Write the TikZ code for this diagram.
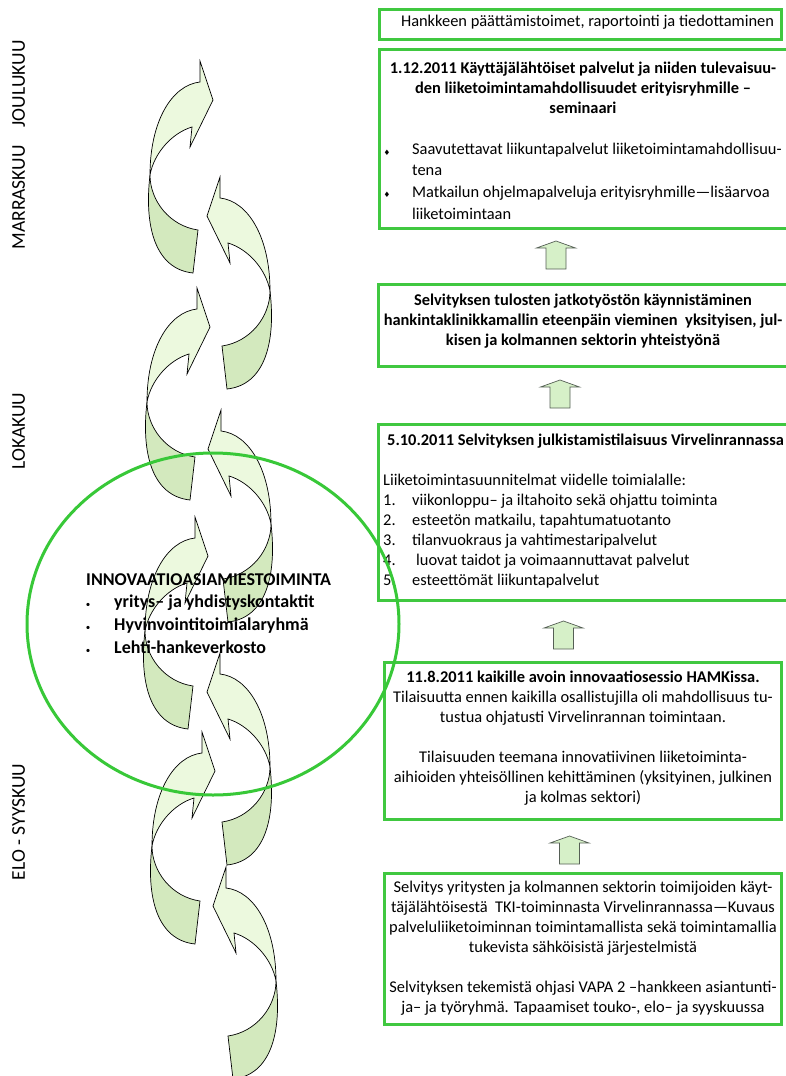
\documentclass[tikz,border=0pt]{standalone}
\usepackage{fontspec}
\setmainfont{Carlito}
\newfontfamily\dejavu{DejaVu Sans}
\definecolor{boxgreen}{RGB}{64,200,64}
\definecolor{ellgreen}{RGB}{56,200,56}
\definecolor{arrlight}{RGB}{236,249,222}
\definecolor{arrdark}{RGB}{211,233,190}
\definecolor{uparrfill}{RGB}{214,240,200}
\definecolor{uparrline}{RGB}{85,95,85}
\tikzset{
  swirl/.pic={
    \filldraw[draw=black, line width=0.7pt, fill=arrlight]
      (0,21) -- (0,0) -- (13,39) -- (-10,86) -- (-8,66)
      .. controls (-28,72) and (-46,92) .. (-50,114)
      .. controls (-50,60) and (-28,24) .. (0,21) -- cycle;
    \filldraw[draw=black, line width=0.7pt, fill=arrdark]
      (-50,114) .. controls (-56,165) and (-45,208) .. (-7,212)
      -- (-2,169) .. controls (-30,165) and (-50,140) .. (-50,114) -- cycle;
  },
  uparrow/.pic={
    \filldraw[draw=uparrline, fill=uparrfill, line width=0.7pt]
      (0,0) -- (19.5,7) -- (10,7) -- (10,28) -- (-10,28) -- (-10,7) -- (-19.5,7) -- cycle;
  },
  greenbox/.style={draw=boxgreen, line width=3pt, inner sep=0pt},
  body/.style={font=\fontsize{16.4}{20}\selectfont, inner sep=0pt, anchor=base},
  bodyb/.style={font=\fontsize{16.4}{20}\selectfont\bfseries, inner sep=0pt, anchor=base},
  bulletlist/.style={font=\fontsize{16.4}{21.7}\selectfont, inner sep=0pt, anchor=base west, align=left},
  month/.style={font=\fontsize{19.5}{22}\selectfont, inner sep=0pt, rotate=90},
  ellb/.style={font=\fontsize{18}{23}\selectfont\bfseries, inner sep=0pt, anchor=base west},
  dia/.style={font=\dejavu\fontsize{7.5}{7.5}\selectfont, inner sep=0pt},
  dot/.style={font=\fontsize{9}{9}\selectfont, inner sep=0pt},
}
\begin{document}
\begin{tikzpicture}[x=1pt,y=-1pt]
\useasboundingbox (0,0) rectangle (786,1076);
\clip (0,0) rectangle (786,1076);

% month labels
\node[month] (m1) at (18.5,145) {MARRASKUU\hspace{18pt}JOULUKUU};
\node[month] (m2) at (18.5,431) {LOKAKUU};
\node[month] (m3) at (18.5,822) {ELO - SYYSKUU};

% curved arrows
\pic (a1) at (200,61) {swirl};
\pic[xscale=-1] (a2) at (220,177) {swirl};
\pic (a3) at (197,288) {swirl};
\pic[xscale=-1] (a4) at (221,410) {swirl};
\pic (a5) at (195,517) {swirl};
\pic[xscale=-1] (a6) at (220,653) {swirl};
\pic (a7) at (202,732) {swirl};
\pic[xscale=-1] (a8) at (226,867) {swirl};

% boxes
\node[greenbox, minimum width=402pt, minimum height=30pt] (b0) at (580.5,24.5) {};
\node[greenbox, minimum width=410.5pt, minimum height=179pt] (b1) at (584.75,139) {};
\node[greenbox, minimum width=411.5pt, minimum height=82pt] (b2) at (584.25,325.5) {};
\node[greenbox, minimum width=411.5pt, minimum height=176pt] (b3) at (584.25,512.5) {};
\node[greenbox, minimum width=397pt, minimum height=157pt] (b4) at (583,741) {};
\node[greenbox, minimum width=397pt, minimum height=151pt] (b5) at (583,949) {};

% up arrows
\pic (u1) at (556,241) {uparrow};
\pic (u2) at (560,380) {uparrow};
\pic (u3) at (563.5,621) {uparrow};
\pic (u4) at (569.5,836) {uparrow};

% box texts (multi-line nodes: base = baseline of last line)
\node[body] (t0) at (587.5,26) {Hankkeen päättämistoimet, raportointi ja tiedottaminen};

\node[bodyb, align=center] (t1) at (583,113) {1.12.2011 Käyttäjälähtöiset palvelut ja niiden tulevaisuu-\\den liiketoimintamahdollisuudet erityisryhmille –\\seminaari};
\node[dia] (d1) at (387,153) {♦};
\node[bulletlist] (t1a) at (412,175.7) {Saavutettavat liikuntapalvelut liiketoimintamahdollisuu-\\tena};
\node[dia] (d2) at (387,195) {♦};
\node[bulletlist] (t1b) at (412,219.1) {Matkailun ohjelmapalveluja erityisryhmille—lisäarvoa\\liiketoimintaan};

\node[bodyb, align=center] (t2) at (583,345) {Selvityksen tulosten jatkotyöstön käynnistäminen\\hankintaklinikkamallin eteenpäin vieminen\ \ yksityisen, jul-\\kisen ja kolmannen sektorin yhteistyönä};

\node[bodyb, anchor=base west] (t3) at (387,445) {5.10.2011 Selvityksen julkistamistilaisuus Virvelinrannassa};
\node[body, anchor=base west] (t3a) at (383,485) {Liiketoimintasuunnitelmat viidelle toimialalle:};
\node[body, anchor=base west] (n1) at (383,505) {1.};
\node[body, anchor=base west] (n2) at (383,525) {2.};
\node[body, anchor=base west] (n3) at (383,545) {3.};
\node[body, anchor=base west] (n4) at (383,565) {4.};
\node[body, anchor=base west] (n5) at (383,585) {5.};
\node[body, anchor=base west] (l1) at (412,505) {viikonloppu– ja iltahoito sekä ohjattu toiminta};
\node[body, anchor=base west] (l2) at (412,525) {esteetön matkailu, tapahtumatuotanto};
\node[body, anchor=base west] (l3) at (412,545) {tilanvuokraus ja vahtimestaripalvelut};
\node[body, anchor=base west] (l4) at (416,565) {luovat taidot ja voimaannuttavat palvelut};
\node[body, anchor=base west] (l5) at (412,585) {esteettömät liikuntapalvelut};

\node[body, align=center] (t4) at (583,802) {\textbf{11.8.2011 kaikille avoin innovaatiosessio HAMKissa.}\\Tilaisuutta ennen kaikilla osallistujilla oli mahdollisuus tu-\\tustua ohjatusti Virvelinrannan toimintaan.\\[20pt]Tilaisuuden teemana innovatiivinen liiketoiminta-\\aihioiden yhteisöllinen kehittäminen (yksityinen, julkinen\\ja kolmas sektori)};

\node[body, align=center] (t5) at (583,1012) {Selvitys yritysten ja kolmannen sektorin toimijoiden käyt-\\täjälähtöisestä\ \ TKI-toiminnasta Virvelinrannassa—Kuvaus\\palveluliiketoiminnan toimintamallista sekä toimintamallia\\tukevista sähköisistä järjestelmistä\\[20pt]Selvityksen tekemistä ohjasi VAPA 2 –hankkeen asiantunti-\\ja– ja työryhmä. Tapaamiset touko-, elo– ja syyskuussa};

% ellipse
\draw[ellgreen, line width=3pt] (213,624) ellipse [x radius=186pt, y radius=171pt];

\node[ellb] (e0) at (86,585) {INNOVAATIOASIAMIESTOIMINTA};
\node[dot] (e1d) at (88,605) {•};
\node[ellb] (e1) at (114,607) {yritys– ja yhdistyskontaktit};
\node[dot] (e2d) at (88,628) {•};
\node[ellb] (e2) at (114,630) {Hyvinvointitoimialaryhmä};
\node[dot] (e3d) at (88,651) {•};
\node[ellb] (e3) at (114,653) {Lehti-hankeverkosto};
\end{tikzpicture}
\end{document}
